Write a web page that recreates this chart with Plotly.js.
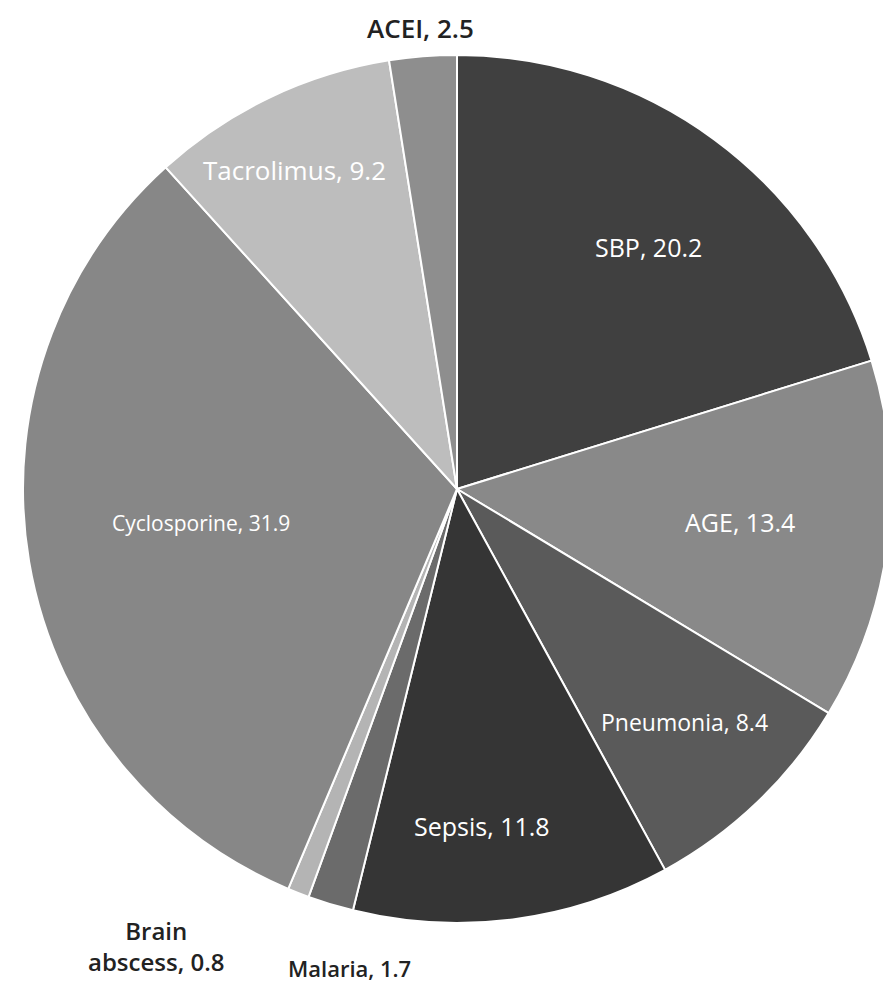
<!DOCTYPE html>
<html><head><meta charset="utf-8">
<script src="https://cdn.plot.ly/plotly-3.0.1.min.js"></script>
<style>html,body{margin:0;padding:0;overflow:hidden;background:#fff;width:883px;height:983px}#chart{width:914px;height:983px}</style>
</head><body><div id="chart"></div>
<script>
const categories = ["SBP","AGE","Pneumonia","Sepsis","Malaria","Brain abscess","Cyclosporine","Tacrolimus","ACEI"];
const values = [20.2,13.4,8.4,11.8,1.7,0.8,31.9,9.2,2.5];
const labelText = ["SBP, 20.2","AGE, 13.4","Pneumonia, 8.4","Sepsis, 11.8","Malaria, 1.7","Brain<br>abscess, 0.8","Cyclosporine, 31.9","Tacrolimus, 9.2","ACEI, 2.5"];
const colors = ["#404040","#898989","#5a5a5a","#353535","#6b6b6b","#b4b4b4","#878787","#bdbdbd","#8e8e8e"];

// label placement (pixels in the 914x983 plot) and styling, separate from data
const W = 914, H = 983;
const labelPos = [[648,247],[740,522],[684,722],[482,826],[349,968],[156,946],[201,523],[294,170],[420,28]];
const labelColor = ["#ffffff","#ffffff","#ffffff","#ffffff","#222222","#222222","#ffffff","#ffffff","#222222"];
const labelSize = [25,25,23,25,22,24,21,26,26];
const labelWeight = [400,400,400,400,600,600,400,400,600];

const annotations = labelText.map((t,i)=>({
  text:t, x:labelPos[i][0]/W, y:1-labelPos[i][1]/H, xref:'paper', yref:'paper',
  xanchor:'center', yanchor:'middle', showarrow:false, align:'center',
  font:{family:'Open Sans, sans-serif', color:labelColor[i], size:labelSize[i], weight:labelWeight[i]}
}));

Plotly.newPlot('chart',[{
  type:'pie', labels:categories, values:values,
  textinfo:'none',
  sort:false, direction:'clockwise', rotation:0,
  marker:{colors:colors, line:{color:'#ffffff', width:2}},
  domain:{x:[23/W, 891/W], y:[1-923/H, 1-55/H]},
  hoverinfo:'none'
}],{
  width:W, height:H, margin:{l:0,r:0,t:0,b:0},
  showlegend:false, paper_bgcolor:'#ffffff', annotations:annotations
},{staticPlot:true});
</script></body></html>
